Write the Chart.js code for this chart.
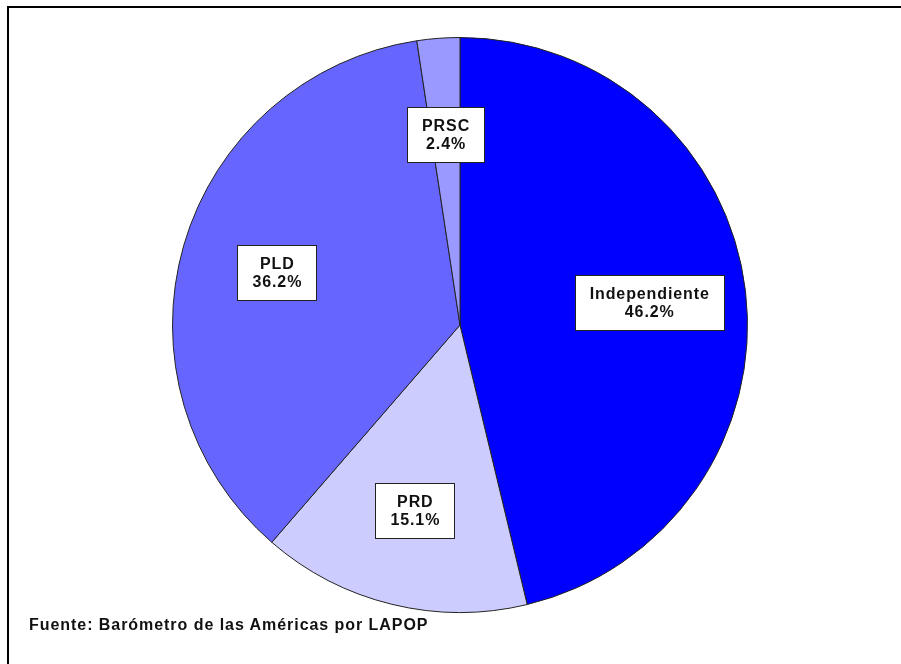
<!DOCTYPE html>
<html>
<head>
<meta charset="utf-8">
<script src="https://cdn.jsdelivr.net/npm/chart.js@4"></script>
<style>
  body { margin: 0; background: #fff; }
  #wrap { position: relative; width: 901px; height: 664px; overflow: hidden; }
  #frame {
    position: absolute; left: 7px; top: 6px; right: -10px; bottom: -10px;
    border-top: 2px solid #000; border-left: 2px solid #000;
  }
  #chart { position: absolute; left: 0; top: 0; }
  #source {
    position: absolute; left: 29px; top: 616px;
    font-family: "Liberation Sans", Arial, sans-serif; font-weight: bold; font-size: 16px;
    letter-spacing: 0.95px; color: #111;
  }
</style>
</head>
<body>
<div id="wrap">
  <canvas id="chart" width="901" height="664"></canvas>
  <div id="frame"></div>
  <div id="source">Fuente: Barómetro de las Américas por LAPOP</div>
</div>
<script>
// DATA
const parties = ["Independiente", "PRD", "PLD", "PRSC"];
const shares = [46.2, 15.1, 36.2, 2.4];
const sliceColors = ["#0000FF", "#CCCCFF", "#6666FF", "#9999FF"];

// boxed labels inside the slices
const boxLabels = {
    id: "boxLabels",
    afterDatasetsDraw(chart) {
        const ctx = chart.ctx;
        const arcs = chart.getDatasetMeta(0).data;
        const sp = 0.9;
        ctx.save();
        ctx.font = "bold 16px 'Liberation Sans', Arial, sans-serif";
        ctx.letterSpacing = sp + "px";
        ctx.textAlign = "center";
        ctx.textBaseline = "middle";
        arcs.forEach((arc, i) => {
            const mid = (arc.startAngle + arc.endAngle) / 2;
            const r = arc.outerRadius * 0.663;
            const x = arc.x + Math.cos(mid) * r;
            const y = arc.y + Math.sin(mid) * r;
            const line1 = parties[i];
            const line2 = shares[i].toFixed(1) + "%";
            const tw = Math.max(ctx.measureText(line1).width, ctx.measureText(line2).width) - sp;
            const w = Math.round(tw + 30);
            const h = 55;
            const bx = Math.round(x - w / 2) + 0.5;
            const by = Math.round(y - h / 2) + 0.5;
            ctx.fillStyle = "#fff";
            ctx.fillRect(bx, by, w, h);
            ctx.strokeStyle = "#222";
            ctx.lineWidth = 1;
            ctx.strokeRect(bx, by, w, h);
            ctx.fillStyle = "#111";
            ctx.fillText(line1, x + sp / 2, by + 19);
            ctx.fillText(line2, x + sp / 2, by + 37);
        });
        ctx.restore();
    }
};

new Chart(document.getElementById("chart"), {
    type: "pie",
    data: {
        labels: parties,
        datasets: [{
            data: shares,
            backgroundColor: sliceColors,
            borderColor: "#222",
            borderWidth: 1
        }]
    },
    options: {
        responsive: false,
        animation: false,
        layout: { padding: { top: 37, bottom: 51, left: 19, right: 0 } },
        plugins: {
            legend: { display: false },
            tooltip: { enabled: false }
        }
    },
    plugins: [boxLabels]
});
</script>
</body>
</html>
